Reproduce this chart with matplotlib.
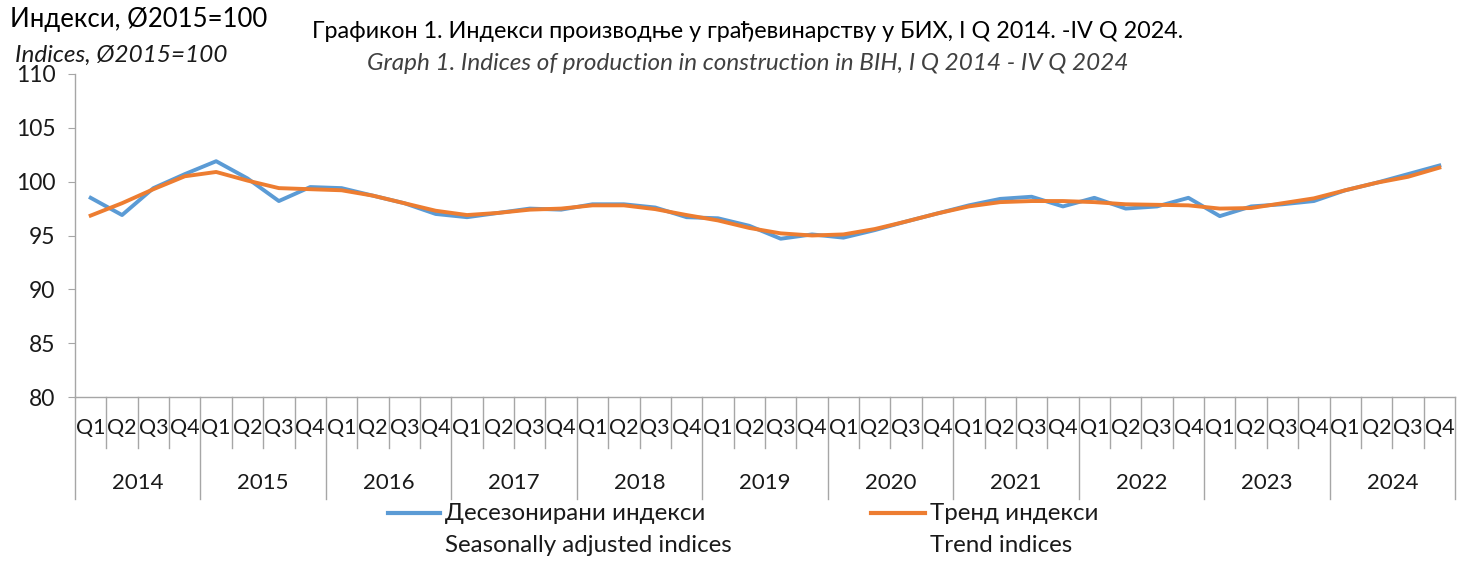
import matplotlib.pyplot as plt
import matplotlib.transforms as mtransforms
from matplotlib.lines import Line2D

plt.rcParams['font.family'] = ['Lato', 'Noto Sans', 'DejaVu Sans']

years = ['2014', '2015', '2016', '2017', '2018', '2019', '2020', '2021', '2022', '2023', '2024']
quarters = ['Q1', 'Q2', 'Q3', 'Q4']

# десезонирани индекси / seasonally adjusted
sa = [98.5, 96.9, 99.4, 100.7, 101.9, 100.3, 98.2, 99.5, 99.4, 98.7, 98.0, 97.0,
      96.7, 97.1, 97.5, 97.4, 97.9, 97.9, 97.6, 96.7, 96.6, 95.9, 94.7, 95.1,
      94.8, 95.5, 96.3, 97.05, 97.8, 98.4, 98.6, 97.7, 98.5, 97.5, 97.7, 98.5,
      96.8, 97.7, 97.9, 98.2, 99.2, 99.9, 100.7, 101.5]
# тренд / trend
trend = [96.85, 98.0, 99.3, 100.5, 100.9, 100.1, 99.4, 99.3, 99.2, 98.7, 98.0, 97.3,
         96.9, 97.1, 97.4, 97.5, 97.8, 97.8, 97.45, 96.9, 96.4, 95.7, 95.2, 95.0,
         95.1, 95.6, 96.3, 97.05, 97.7, 98.1, 98.2, 98.2, 98.1, 97.9, 97.85, 97.8,
         97.5, 97.55, 98.0, 98.45, 99.2, 99.9, 100.45, 101.3]

blue = '#5B9BD5'
orange = '#ED7D31'
grey = '#A6A6A6'
txt = '#1a1a1a'

W, H = 1462, 588
fig = plt.figure(figsize=(W / 100, H / 100), dpi=100)
L, R, T, B = 75, 1455, 74, 397
ax = fig.add_axes([L / W, 1 - B / H, (R - L) / W, (B - T) / H])

x = list(range(len(sa)))
ax.plot(x, sa, color=blue, lw=2.8, zorder=3)
ax.plot(x, trend, color=orange, lw=2.8, zorder=4)

ax.set_xlim(-0.5, len(sa) - 0.5)
ax.set_ylim(80, 110)
ax.set_yticks(range(80, 111, 5))
ax.set_xticks([])
for s in ['top', 'right']:
    ax.spines[s].set_visible(False)
for s in ['left', 'bottom']:
    ax.spines[s].set_color(grey)
    ax.spines[s].set_linewidth(1)
ax.tick_params(axis='y', direction='out', length=5, color=grey, labelsize=16.5,
               labelcolor=txt, pad=9)

# dvonivojske oznake na x osi
trans = mtransforms.blended_transform_factory(ax.transData, ax.transAxes)
ah = B - T
for i in range(len(sa)):
    ax.text(i, -(428 - B) / ah, quarters[i % 4], transform=trans, ha='center',
            va='center', fontsize=15.5, color=txt)
for k in range(len(sa) + 1):
    bottom = 499 if k % 4 == 0 else 448
    ax.plot([k - 0.5, k - 0.5], [0, -(bottom - B) / ah], transform=trans,
            color=grey, lw=1, clip_on=False)
for j, yr in enumerate(years):
    ax.text(4 * j + 1.5, -(483 - B) / ah, yr, transform=trans, ha='center',
            va='center', fontsize=16, color=txt)

# naslovi
fig.text(10 / W, 1 - 20 / H, 'Индекси, Ø2015=100', fontsize=18.5, ha='left',
         va='center', color='black')
fig.text(15 / W, 1 - 55 / H, 'Indices, Ø2015=100', fontsize=17.5, style='italic',
         ha='left', va='center', color=txt)
fig.text(748 / W, 1 - 32 / H,
         'Графикон 1. Индекси производње у грађевинарству у БИХ, I Q 2014. -IV Q 2024.',
         fontsize=16.8, ha='center', va='center', color='black')
fig.text(748 / W, 1 - 63 / H,
         'Graph 1. Indices of production in construction in BIH, I Q 2014 - IV Q 2024',
         fontsize=17.5, style='italic', ha='center', va='center', color='#404040')

# legenda
for (x0, x1, col, l1, l2) in [(388, 440, blue, 'Десезонирани индекси', 'Seasonally adjusted indices'),
                              (871, 925, orange, 'Тренд индекси', 'Trend indices')]:
    fig.add_artist(Line2D([x0 / W, x1 / W], [1 - 513 / H, 1 - 513 / H], color=col, lw=3))
    fig.text((x1 + 5) / W, 1 - 513 / H, l1, fontsize=17.4, ha='left', va='center', color=txt)
    fig.text((x1 + 5) / W, 1 - 545 / H, l2, fontsize=17.4, ha='left', va='center', color=txt)

fig.savefig('out.png', dpi=100)
